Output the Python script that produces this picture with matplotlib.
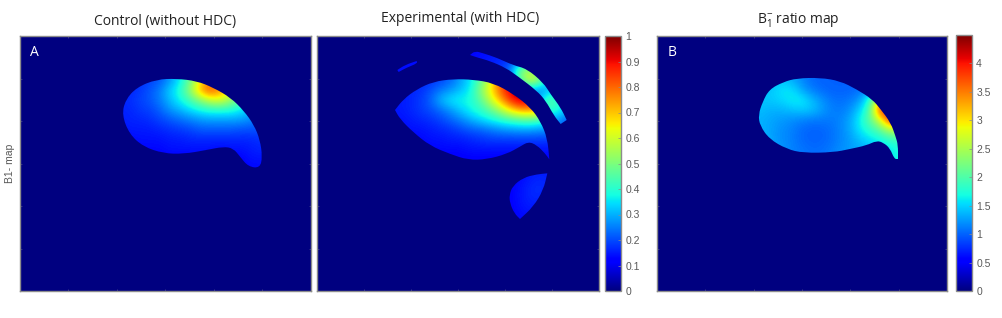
import numpy as np
import matplotlib
matplotlib.use("Agg")
import matplotlib.pyplot as plt
from matplotlib.patches import PathPatch
from matplotlib.path import Path
from matplotlib.cm import ScalarMappable
from matplotlib.colors import Normalize

plt.rcParams['font.family'] = ['Open Sans', 'DejaVu Sans']
plt.rcParams['mathtext.default'] = 'regular'

W, H = 1003, 318
GREY = "#8c8c8c"

# outlines and grids are read in 3x crop coordinates, see the crop origins
# a repeated outline point keeps a sharp corner there

# -- control map
ctrl_origin = (100, 60)
ctrl_outline = [(66,165),(76,120),(110,82),(170,58),(230,56),(290,63),(340,83),(392,113),(432,153),
                (462,195),(480,240),(487,290),(480,324),(445,320),(420,290),(400,265),(370,260),
                (320,270),(250,282),(190,280),(130,260),(88,222)]
ctrl_x = [60,90,120,150,180,210,240,270,300,330,360,390,420,450,480]
ctrl_y = [60,90,120,150,180,210,240,270,300,330]
ctrl_vals = [
    [.16,.16,.17,.19,.21,.27,.35,.47,.64,.76,.75,.7,.6,.5,.4],
    [.16,.16,.18,.21,.25,.33,.39,.53,.73,.84,.76,.65,.55,.45,.4],
    [.16,.17,.19,.21,.25,.31,.37,.43,.51,.59,.62,.54,.46,.4,.35],
    [.16,.16,.18,.19,.22,.27,.30,.34,.37,.39,.39,.39,.36,.31,.28],
    [.15,.16,.16,.17,.19,.21,.23,.25,.27,.28,.28,.28,.28,.26,.23],
    [.14,.15,.15,.15,.16,.17,.18,.19,.21,.21,.21,.21,.20,.20,.20],
    [.13,.13,.14,.14,.14,.15,.15,.16,.16,.16,.16,.16,.16,.16,.17],
    [.12,.13,.13,.13,.13,.14,.14,.14,.14,.14,.13,.14,.14,.15,.16],
    [.12,.12,.12,.12,.12,.12,.12,.12,.12,.12,.12,.12,.12,.14,.14],
    [.12,.12,.12,.12,.12,.12,.12,.12,.12,.12,.12,.12,.12,.13,.13],
]

# -- experimental map
exp_origin = (380, 40)
exp_outline = [(45,210),(45,210),(70,178),(110,148),(160,125),(220,117),(280,119),(340,129),(400,162),(452,203),
               (482,245),(502,295),(508,358),(508,358),(495,340),(470,315),(445,305),(420,320),(380,342),
               (320,358),(265,360),(210,342),(150,317),(100,277),(60,237)]
exp_x = [30,60,90,120,150,180,210,240,270,300,330,360,390,420,450,480,510]
exp_y = [120,150,180,210,240,270,300,330,360]
exp_vals = [
    [.15,.15,.15,.16,.17,.19,.22,.28,.34,.45,.60,.80,.90,.90,.85,.80,.70],
    [.15,.15,.16,.17,.20,.24,.27,.31,.36,.50,.65,.80,.93,.95,.90,.80,.70],
    [.15,.15,.16,.18,.22,.30,.35,.37,.38,.45,.58,.72,.86,.95,.92,.80,.70],
    [.14,.15,.16,.18,.20,.23,.27,.32,.37,.40,.46,.55,.66,.74,.76,.70,.60],
    [.14,.14,.15,.16,.17,.19,.22,.25,.29,.33,.36,.39,.42,.44,.45,.42,.38],
    [.13,.13,.14,.14,.15,.16,.17,.19,.21,.22,.24,.26,.27,.28,.28,.27,.26],
    [.12,.13,.13,.13,.14,.14,.15,.15,.16,.17,.18,.18,.18,.18,.18,.18,.18],
    [.12,.12,.12,.12,.13,.13,.13,.13,.14,.14,.14,.14,.14,.14,.14,.14,.14],
    [.12,.12,.12,.12,.12,.12,.12,.12,.12,.12,.12,.12,.12,.12,.12,.12,.12],
]

lower_outline = [(388,465),(398,438),(430,413),(470,403),(502,400),(502,400),(490,450),(460,500),(420,537),(420,537),(403,520),(390,490)]
lower_x = [390,430,470,510]
lower_y = [400,450,500,540]
lower_vals = [
    [.12,.13,.15,.15],
    [.12,.15,.18,.16],
    [.12,.15,.16,.14],
    [.12,.13,.13,.12],
]

arc_outline = [(270,45),(270,45),(285,33),(310,40),(350,53),(400,76),(440,86),(490,128),(512,163),(542,203),(560,240),(560,240),
               (542,252),(542,252),(522,227),(497,182),(470,152),(415,110),(378,84),(330,63),(290,52)]
arc_x = [270,300,330,360,390,420,450,480,510,540,570]
arc_y = [30,60,90,120,150,180,210,240,270]
arc_vals = [
    [.13,.13,.14,.15,.16,.18,.20,.20,.20,.20,.20],
    [.13,.14,.15,.16,.18,.24,.25,.25,.25,.25,.25],
    [.14,.15,.16,.18,.22,.50,.58,.42,.30,.25,.25],
    [.14,.15,.16,.18,.25,.45,.62,.55,.28,.25,.25],
    [.14,.15,.16,.18,.25,.30,.30,.22,.32,.30,.25],
    [.14,.15,.16,.18,.25,.30,.30,.32,.48,.38,.30],
    [.14,.15,.16,.18,.25,.30,.30,.32,.42,.38,.30],
    [.14,.15,.16,.18,.25,.30,.30,.30,.30,.25,.20],
    [.14,.15,.16,.18,.25,.30,.30,.30,.30,.22,.18],
]

thin_outline = [(52,90),(52,90),(75,75),(110,63),(110,63),(112,70),(80,83),(56,96),(56,96)]
thin_x = [50,115]
thin_y = [60,100]
thin_vals = [[.14,.14],[.14,.14]]

# -- ratio map
ratio_origin = (740, 70)
ratio_outline = [(55,135),(68,95),(88,58),(130,36),(170,25),(240,23),(300,33),(350,58),(397,88),(422,118),
                 (452,158),(467,200),(474,225),(474,267),(474,267),(463,267),(450,235),(430,218),(410,212),(380,226),
                 (330,237),(280,247),(190,249),(140,237),(88,207),(60,167)]
ratio_x = [60,90,120,150,180,210,240,270,300,330,360,390,420,450,480]
ratio_y = [30,60,90,120,150,180,210,240,270]
ratio_vals = [
    [1.25,1.35,1.45,1.35,1.2,1.05,1.0,1.0,1.0,1.0,1.0,1.05,1.1,1.2,1.3],
    [1.35,1.45,1.55,1.6,1.35,1.15,1.05,1.0,1.0,1.0,1.05,1.2,1.4,1.5,1.5],
    [1.45,1.45,1.5,1.6,1.65,1.45,1.25,1.1,1.05,1.1,1.25,1.8,3.2,3.2,3.2],
    [1.4,1.35,1.35,1.4,1.45,1.45,1.3,1.15,1.1,1.2,1.5,2.0,3.9,4.0,4.0],
    [1.35,1.3,1.25,1.2,1.15,1.1,1.1,1.1,1.15,1.3,1.65,2.1,2.7,3.9,3.9],
    [1.35,1.3,1.2,1.15,1.05,1.0,1.0,1.05,1.15,1.3,1.6,1.8,2.05,2.5,2.5],
    [1.4,1.3,1.2,1.15,1.05,1.0,1.0,1.05,1.15,1.25,1.4,1.55,1.65,1.8,1.9],
    [1.4,1.35,1.25,1.15,1.1,1.05,1.05,1.1,1.2,1.25,1.3,1.35,1.4,1.6,1.7],
    [1.4,1.35,1.25,1.15,1.1,1.05,1.05,1.1,1.2,1.25,1.3,1.35,1.4,1.6,1.7],
]

cbar1_ticks = [0, .1, .2, .3, .4, .5, .6, .7, .8, .9, 1]
cbar1_labels = ["0", "0.1", "0.2", "0.3", "0.4", "0.5", "0.6", "0.7", "0.8", "0.9", "1"]
cbar2_ticks = [0, .5, 1, 1.5, 2, 2.5, 3, 3.5, 4]
cbar2_labels = ["0", "0.5", "1", "1.5", "2", "2.5", "3", "3.5", "4"]


def px_axes(left, top, right, bottom):
    return fig.add_axes([left / W, 1 - bottom / H, (right - left) / W, (bottom - top) / H])


def make_panel(box):
    ax = px_axes(*box)
    ax.set_facecolor(plt.cm.jet(0.0))
    ax.set_xticks(np.linspace(box[0], box[2], 7)[1:-1])
    ax.set_yticks(np.linspace(box[1], box[3], 7)[1:-1])
    ax.tick_params(direction="in", length=1.5, width=0.4, color="#5a5a90", top=True, right=True,
                   labelbottom=False, labelleft=False)
    for s in ax.spines.values():
        s.set_color(GREY)
        s.set_linewidth(1.0)
    return ax


def smooth_path(pts):
    # quadratic segments through the midpoints, so the outline has no facets
    pts = np.array(pts, dtype=float)
    mids = (pts + np.roll(pts, -1, axis=0)) / 2
    verts = [mids[-1]]
    codes = [Path.MOVETO]
    for p, m in zip(pts, mids):
        verts += [p, m]
        codes += [Path.CURVE3, Path.CURVE3]
    return Path(verts, codes)


def draw_region(ax, origin, outline, xs, ys, vals, vmax):
    # crop coordinates to reference pixels
    ox, oy = origin
    px = ox + np.array(xs) / 3
    py = oy + np.array(ys) / 3
    dx = (px[1] - px[0]) / 2
    dy = (py[1] - py[0]) / 2
    im = ax.imshow(np.array(vals), extent=(px[0] - dx, px[-1] + dx, py[-1] + dy, py[0] - dy),
                   cmap="jet", vmin=0, vmax=vmax, aspect="auto",
                   interpolation="bicubic", interpolation_stage="data")
    pts = [(ox + x / 3, oy + y / 3) for x, y in outline]
    im.set_clip_path(PathPatch(smooth_path(pts), transform=ax.transData))


def make_cbar(box, vmax, ticks, labels):
    cax = px_axes(*box)
    cb = fig.colorbar(ScalarMappable(Normalize(0, vmax), cmap="jet"), cax=cax)
    cb.set_ticks(ticks, labels=labels)
    cax.tick_params(direction="in", length=2, width=0.5, color=GREY, labelcolor="#595959", labelsize=7.5, pad=3)
    for label in cax.get_yticklabels():
        label.set_fontfamily("Liberation Sans")
    cb.outline.set_edgecolor(GREY)
    cb.outline.set_linewidth(1.0)


fig = plt.figure(figsize=(W / 100, H / 100), dpi=100, facecolor="white")

box_a = (20, 36, 311, 291)
box_e = (317, 36, 599, 291)
box_b = (657, 36, 947, 291)

ax_a = make_panel(box_a)
draw_region(ax_a, ctrl_origin, ctrl_outline, ctrl_x, ctrl_y, ctrl_vals, 1)

ax_e = make_panel(box_e)
draw_region(ax_e, exp_origin, exp_outline, exp_x, exp_y, exp_vals, 1)
draw_region(ax_e, exp_origin, lower_outline, lower_x, lower_y, lower_vals, 1)
draw_region(ax_e, exp_origin, arc_outline, arc_x, arc_y, arc_vals, 1)
draw_region(ax_e, exp_origin, thin_outline, thin_x, thin_y, thin_vals, 1)

ax_b = make_panel(box_b)
draw_region(ax_b, ratio_origin, ratio_outline, ratio_x, ratio_y, ratio_vals, 4.5)

# imshow resets the limits
for ax, box in ((ax_a, box_a), (ax_e, box_e), (ax_b, box_b)):
    ax.set_xlim(box[0], box[2])
    ax.set_ylim(box[3], box[1])

make_cbar((605, 36, 621, 291), 1, cbar1_ticks, cbar1_labels)
make_cbar((956, 35, 972, 291), 4.5, cbar2_ticks, cbar2_labels)

fig.text(165.5 / W, 1 - 21 / H, "Control (without HDC)", ha="center", va="center", fontsize=10, color="#222222")
fig.text(460 / W, 1 - 18.5 / H, "Experimental (with HDC)", ha="center", va="center", fontsize=10, color="#222222")
fig.text(798 / W, 1 - 20 / H, "B$_1^{-}$ ratio map", ha="center", va="center", fontsize=10, color="#222222")
fig.text(10 / W, 1 - 163 / H, "B1- map", rotation=90, ha="center", va="center", fontsize=7.5, color="#595959",
         family="Liberation Sans")
fig.text(34 / W, 1 - 53 / H, "A", ha="center", va="center", fontsize=10, color="white")
fig.text(672 / W, 1 - 53 / H, "B", ha="center", va="center", fontsize=10, color="white")

fig.savefig("out.png", dpi=100)
